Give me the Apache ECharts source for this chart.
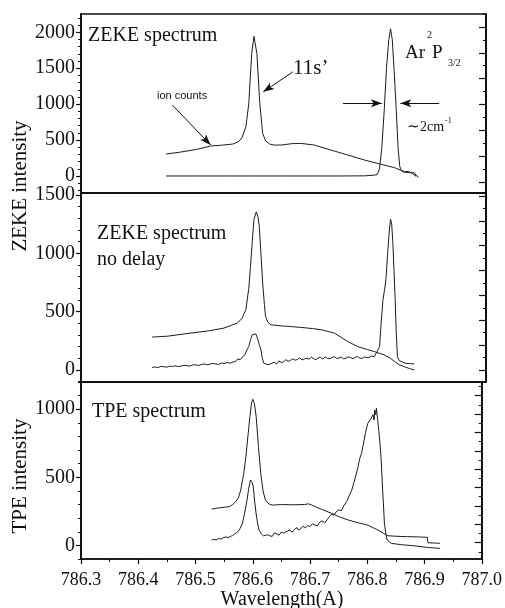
<!DOCTYPE html>
<html>
<head>
<meta charset="utf-8">
<script src="https://cdn.jsdelivr.net/npm/echarts@6/dist/echarts.min.js"></script>
<style>
  html, body { margin: 0; padding: 0; background: #fff; }
</style>
</head>
<body>
<div id="chart" style="width: 505px; height: 608px"></div>
<script>
// top panel: ZEKE spectrum with ion counts
const topIonWl = [786.447, 786.47, 786.50, 786.524, 786.545, 786.562, 786.572, 786.578, 786.585, 786.590, 786.595, 786.599, 786.601, 786.604, 786.609, 786.614, 786.619, 786.626, 786.634, 786.646, 786.665, 786.680, 786.703, 786.732, 786.761, 786.790, 786.819, 786.842, 786.859, 786.866, 786.872, 786.876, 786.880, 786.883]
const topIonVal = [306, 330, 370, 417, 430, 444, 475, 530, 685, 1010, 1704, 1944, 1930, 1704, 1010, 593, 490, 445, 430, 431, 450, 454, 431, 361, 292, 222, 162, 116, 60, 62, 40, 14, 12, -20]
const topZekeWl = [786.447, 786.50, 786.55, 786.60, 786.65, 786.70, 786.75, 786.79, 786.805, 786.812, 786.816, 786.820, 786.824, 786.828, 786.832, 786.835, 786.838, 786.841, 786.845, 786.848, 786.851, 786.855, 786.862, 786.868, 786.873, 786.877, 786.879]
const topZekeVal = [0, 0, 0, 0, 0, 0, 0, 2, 10, 20, 100, 400, 900, 1500, 1900, 2050, 1900, 1500, 900, 400, 130, 60, 50, 45, 50, 40, -10]

// middle panel: ZEKE spectrum, no delay
const midIonWl = [786.423, 786.45, 786.489, 786.52, 786.547, 786.570, 786.578, 786.585, 786.590, 786.593, 786.596, 786.599, 786.603, 786.606, 786.608, 786.611, 786.614, 786.617, 786.619, 786.623, 786.628, 786.645, 786.660, 786.680, 786.700, 786.715, 786.738, 786.761, 786.778, 786.795, 786.807, 786.824, 786.835, 786.842, 786.850, 786.859, 786.868, 786.876]
const midIonVal = [282, 290, 316, 335, 359, 402, 440, 517, 700, 890, 1100, 1293, 1356, 1310, 1235, 1000, 747, 560, 459, 410, 388, 378, 373, 365, 355, 345, 316, 244, 201, 175, 158, 129, 100, 72, 45, 28, 12, 0]
const midZekeWl = [786.423, 786.428, 786.433, 786.438, 786.443, 786.448, 786.453, 786.458, 786.463, 786.468, 786.473, 786.478, 786.483, 786.488, 786.493, 786.498, 786.503, 786.508, 786.513, 786.518, 786.523, 786.528, 786.533, 786.538, 786.543, 786.548, 786.553, 786.558, 786.563, 786.567, 786.571, 786.575, 786.579, 786.583, 786.587, 786.590, 786.593, 786.596, 786.599, 786.602, 786.605, 786.608, 786.611, 786.613, 786.616, 786.620, 786.625, 786.630, 786.634, 786.638, 786.642, 786.646, 786.650, 786.654, 786.658, 786.662, 786.666, 786.670, 786.674, 786.678, 786.682, 786.686, 786.690, 786.694, 786.698, 786.702, 786.706, 786.710, 786.714, 786.718, 786.722, 786.726, 786.730, 786.734, 786.738, 786.742, 786.746, 786.750, 786.754, 786.758, 786.762, 786.766, 786.770, 786.774, 786.778, 786.782, 786.786, 786.790, 786.794, 786.798, 786.802, 786.807, 786.812, 786.816, 786.819, 786.822, 786.825, 786.827, 786.830, 786.833, 786.835, 786.837, 786.839, 786.841, 786.843, 786.845, 786.847, 786.850, 786.853, 786.860, 786.868, 786.876]
const midZekeVal = [22, 26, 21, 30, 28, 24, 33, 30, 36, 29, 34, 40, 37, 33, 42, 45, 38, 47, 52, 44, 50, 57, 52, 48, 60, 55, 64, 58, 70, 72, 95, 88, 110, 130, 175, 201, 260, 302, 295, 310, 273, 220, 172, 110, 58, 50, 46, 58, 66, 52, 78, 64, 70, 88, 74, 82, 96, 84, 90, 104, 86, 95, 100, 92, 110, 97, 88, 104, 108, 94, 112, 100, 96, 108, 114, 98, 104, 110, 95, 101, 112, 106, 96, 108, 116, 102, 99, 112, 106, 108, 120, 115, 160, 201, 420, 603, 700, 776, 1000, 1200, 1293, 1250, 1092, 850, 603, 300, 115, 80, 63, 58, 55, 52]

// bottom panel: TPE spectrum
const tpeIonWl = [786.528, 786.540, 786.550, 786.559, 786.565, 786.570, 786.575, 786.579, 786.584, 786.588, 786.592, 786.595, 786.598, 786.600, 786.603, 786.606, 786.610, 786.614, 786.618, 786.622, 786.628, 786.634, 786.650, 786.670, 786.690, 786.697, 786.702, 786.720, 786.738, 786.750, 786.767, 786.785, 786.801, 786.810, 786.819, 786.828, 786.836, 786.850, 786.870, 786.890, 786.905, 786.906, 786.915, 786.927]
const tpeIonVal = [267, 275, 280, 284, 300, 320, 350, 406, 520, 651, 820, 946, 1050, 1073, 1040, 946, 720, 529, 400, 333, 305, 296, 300, 298, 300, 305, 298, 265, 235, 212, 186, 165, 149, 130, 112, 90, 71, 67, 64, 62, 59, 19, 18, 15]
const tpeWl = [786.528, 786.532, 786.536, 786.540, 786.544, 786.548, 786.553, 786.557, 786.561, 786.565, 786.570, 786.574, 786.578, 786.582, 786.586, 786.590, 786.593, 786.596, 786.598, 786.599, 786.601, 786.603, 786.606, 786.609, 786.611, 786.615, 786.619, 786.622, 786.626, 786.630, 786.634, 786.638, 786.642, 786.646, 786.650, 786.654, 786.657, 786.661, 786.665, 786.669, 786.673, 786.677, 786.680, 786.684, 786.688, 786.692, 786.696, 786.700, 786.704, 786.709, 786.713, 786.717, 786.721, 786.726, 786.730, 786.734, 786.738, 786.742, 786.746, 786.750, 786.755, 786.759, 786.764, 786.768, 786.773, 786.778, 786.784, 786.787, 786.790, 786.794, 786.797, 786.801, 786.804, 786.807, 786.810, 786.812, 786.813, 786.815, 786.816, 786.818, 786.820, 786.822, 786.824, 786.827, 786.830, 786.833, 786.835, 786.842, 786.860, 786.882, 786.905, 786.927]
const tpeVal = [39, 44, 40, 50, 47, 55, 62, 58, 66, 72, 88, 100, 125, 162, 240, 333, 420, 480, 470, 460, 430, 333, 230, 150, 112, 85, 70, 63, 78, 70, 66, 92, 84, 75, 98, 90, 82, 106, 112, 96, 118, 130, 112, 124, 140, 128, 146, 138, 158, 150, 142, 170, 180, 165, 190, 212, 230, 222, 248, 260, 256, 290, 321, 360, 406, 480, 578, 640, 676, 760, 830, 897, 915, 934, 960, 920, 995, 960, 1007, 930, 850, 760, 651, 400, 162, 70, 39, 15, 5, -3, -15, -22]

const xTicks = [786.3, 787.0]
const topLabels = [0, 500, 1000, 1500, 2000]
const midLabels = [0, 500, 1000, 1500]
const tpeLabels = [0, 500, 1000]

const ink = '#111'
const serif = 'Liberation Serif'
const frame = { show: true, onZero: false, lineStyle: { color: ink, width: 1.5 } }

function pair(xs, ys) {
  return xs.map(function (x, i) {
    return [x, ys[i]]
  })
}

// tick positions between lo and hi, every step starting at start
function stepTicks(start, step, lo, hi) {
  const out = []
  let k = Math.ceil((lo - start) / step)
  for (; start + k * step <= hi; k++) {
    out.push(Math.round((start + k * step) * 10) / 10)
  }
  return out
}

// four y axes per panel: labels + major ticks, minor ticks, right long, right short
function panelAxes(grid, min, max, labels, rStart, rStep) {
  const base = { type: 'value', gridIndex: grid, min: min, max: max, splitLine: { show: false }, axisLine: frame }
  return [
    Object.assign({}, base, {
      position: 'left',
      axisTick: { show: true, length: 5, customValues: labels, lineStyle: { color: ink, width: 1.2 } },
      axisLabel: {
        customValues: labels, color: ink, fontFamily: serif, fontSize: 20, margin: 6,
        formatter: function (v) { return String(v) },
      },
    }),
    Object.assign({}, base, {
      position: 'left',
      axisTick: { show: true, length: 3, customValues: stepTicks(0, 100, min, max), lineStyle: { color: ink } },
      axisLabel: { show: false },
    }),
    Object.assign({}, base, {
      position: 'right',
      axisTick: { show: true, inside: true, length: 7, customValues: stepTicks(rStart, rStep, min, max), lineStyle: { color: ink, width: 1.2 } },
      axisLabel: { show: false },
    }),
    Object.assign({}, base, {
      position: 'right',
      axisTick: { show: true, inside: true, length: 3, customValues: stepTicks(rStart + rStep / 2, rStep, min, max), lineStyle: { color: ink } },
      axisLabel: { show: false },
    }),
  ]
}

function xAxisFor(grid, showLabels) {
  return {
    type: 'value', gridIndex: grid, min: xTicks[0], max: xTicks[1], interval: 0.1,
    splitLine: { show: false },
    axisLine: frame,
    axisTick: { show: showLabels, length: 5, lineStyle: { color: ink, width: 1.2 } },
    minorTick: { show: showLabels, splitNumber: 2, length: 3, lineStyle: { color: ink } },
    axisLabel: {
      show: showLabels, color: ink, fontFamily: serif, fontSize: 18, margin: 12,
      formatter: function (v) { return v.toFixed(1) },
    },
  }
}

function trace(name, data, grid) {
  return {
    name: name, type: 'line', data: data,
    xAxisIndex: grid, yAxisIndex: grid * 4,
    showSymbol: false, symbol: 'none', silent: true,
    lineStyle: { color: '#1c1c1c', width: 1 },
    emphasis: { disabled: true },
  }
}

function arrows(list) {
  return {
    silent: true, symbol: ['none', 'arrow'], symbolSize: [6, 11],
    label: { show: false }, emphasis: { disabled: true },
    lineStyle: { color: ink, width: 1, type: 'solid' },
    data: list.map(function (a) { return [{ coord: a[0] }, { coord: a[1] }] }),
  }
}

function txt(x, y, s, size, font, extra) {
  return {
    type: 'text', x: x, y: y, silent: true,
    rotation: extra && extra.rot ? extra.rot : 0,
    style: {
      text: s, fill: ink, font: size + 'px "' + (font || serif) + '"',
      align: extra && extra.align ? extra.align : 'left', verticalAlign: 'middle',
    },
  }
}

const chart = echarts.init(document.getElementById('chart'))

const ionTop = trace('ion counts', pair(topIonWl, topIonVal), 0)
ionTop.markLine = arrows([
  [[786.458, 986], [786.524, 431]],
  [[786.666, 1449], [786.615, 1171]],
  [[786.753, 1014], [786.820, 1014]],
  [[786.919, 1014], [786.852, 1014]],
])

const gridBox = { show: true, borderColor: ink, borderWidth: 1.5, left: 81, width: 405 }

chart.setOption({
  animation: false,
  grid: [
    Object.assign({ top: 14, height: 179 }, gridBox),
    Object.assign({ top: 193, height: 189 }, gridBox),
    Object.assign({ top: 382, height: 177 }, gridBox),
  ],
  xAxis: [xAxisFor(0, false), xAxisFor(1, false), xAxisFor(2, true)],
  yAxis: []
    .concat(panelAxes(0, -237, 2255, topLabels, -85, 360))
    .concat(panelAxes(1, -103, 1517, midLabels, 0, 213))
    .concat(panelAxes(2, -100, 1200, tpeLabels, 20, 135)),
  series: [
    ionTop,
    trace('ZEKE', pair(topZekeWl, topZekeVal), 0),
    trace('ion counts no delay', pair(midIonWl, midIonVal), 1),
    trace('ZEKE no delay', pair(midZekeWl, midZekeVal), 1),
    trace('ion counts TPE', pair(tpeIonWl, tpeIonVal), 2),
    trace('TPE', pair(tpeWl, tpeVal), 2),
  ],
  graphic: [
    txt(88, 36, 'ZEKE spectrum', 20),
    txt(293, 68, '11s\u2019', 21),
    txt(157, 96, 'ion counts', 11, 'Liberation Sans'),
    txt(405, 53, 'Ar', 19),
    txt(427, 35, '2', 10),
    txt(432, 53, 'P', 19),
    txt(448, 63, '3/2', 10),
    txt(407, 127, '\u223c', 15),
    txt(420, 127, '2cm', 14),
    txt(445, 121, '-1', 8),
    txt(97, 234, 'ZEKE spectrum', 20),
    txt(97, 260, 'no delay', 20),
    txt(92, 412, 'TPE spectrum', 20),
    txt(282, 600, 'Wavelength(A)', 20, serif, { align: 'center' }),
    txt(20, 186, 'ZEKE intensity', 21, serif, { align: 'center', rot: Math.PI / 2 }),
    txt(20, 476, 'TPE intensity', 21, serif, { align: 'center', rot: Math.PI / 2 }),
  ],
})
</script>
</body>
</html>
